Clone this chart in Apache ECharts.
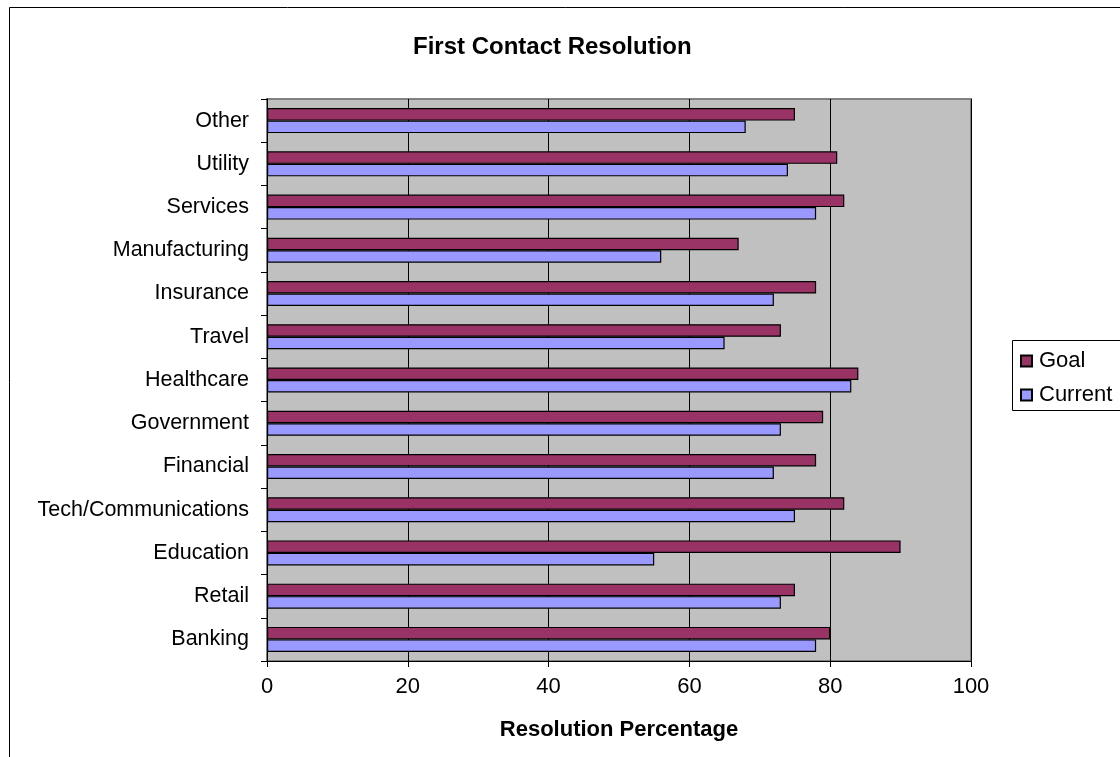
<!DOCTYPE html>
<html>
<head>
<meta charset="utf-8">
<script src="https://cdn.jsdelivr.net/npm/echarts@6/dist/echarts.min.js"></script>
<style>
  html, body { margin: 0; padding: 0; background: #fff; }
  #chart { width: 1120px; height: 757px; }
</style>
</head>
<body>
<div id="chart"></div>
<script>
// Industry sectors, listed bottom to top along the category axis
const categories = [
  'Banking', 'Retail', 'Education', 'Tech/Communications', 'Financial',
  'Government', 'Healthcare', 'Travel', 'Insurance', 'Manufacturing',
  'Services', 'Utility', 'Other'
];
// First contact resolution targets (%)
const goalValues = [80, 75, 90, 82, 78, 79, 84, 73, 78, 67, 82, 81, 75];
// First contact resolution achieved today (%)
const currentValues = [78, 73, 55, 75, 72, 73, 83, 65, 72, 56, 78, 74, 68];
// Percentage axis ticks
const xTicks = [0, 20, 40, 60, 80, 100];

const FONT = '"Liberation Sans", Arial, sans-serif';

const chart = echarts.init(document.getElementById('chart'), null, { renderer: 'canvas' });

chart.setOption({
  animation: false,
  backgroundColor: '#ffffff',
  title: {
    text: 'First Contact Resolution',
    left: 413,
    top: 35,
    padding: 0,
    textStyle: { fontFamily: FONT, fontSize: 24, fontWeight: 'bold', color: '#000' }
  },
  graphic: [
    { // outer chart frame
      type: 'rect', z: -1,
      shape: { x: 9.5, y: 7.5, width: 1300, height: 900 },
      style: { fill: 'none', stroke: '#000', lineWidth: 1 }
    },
    { // legend frame
      type: 'rect', z: 1,
      shape: { x: 1012.5, y: 340.5, width: 200, height: 70 },
      style: { fill: '#fff', stroke: '#000', lineWidth: 1 }
    }
  ],
  legend: {
    data: ['Goal', 'Current'],
    orient: 'vertical',
    left: 1020,
    top: 350,
    padding: 0,
    itemGap: 12,
    itemWidth: 11,
    itemHeight: 11,
    icon: 'rect',
    z: 5,
    textStyle: { fontFamily: FONT, fontSize: 22, color: '#000', padding: [0, 0, 0, 2] }
  },
  grid: {
    left: 267, right: 149, top: 99, bottom: 96,
    containLabel: false,
    show: true,
    backgroundColor: '#C0C0C0',
    borderColor: '#808080',
    borderWidth: 2
  },
  xAxis: {
    type: 'value',
    min: xTicks[0],
    max: xTicks[xTicks.length - 1],
    interval: xTicks[1] - xTicks[0],
    name: 'Resolution Percentage',
    nameLocation: 'middle',
    nameGap: 58,
    nameTextStyle: { fontFamily: FONT, fontSize: 22, fontWeight: 'bold', color: '#000' },
    axisLine: { show: true, onZero: false, lineStyle: { color: '#000', width: 1 } },
    axisTick: { show: true, length: 6, lineStyle: { color: '#000' } },
    axisLabel: { fontFamily: FONT, fontSize: 22, color: '#000', margin: 15 },
    splitLine: { show: true, lineStyle: { color: '#000', width: 1 } }
  },
  yAxis: {
    type: 'category',
    data: categories,
    axisLine: { show: true, lineStyle: { color: '#000', width: 1 } },
    axisTick: { show: true, length: 6, lineStyle: { color: '#000' } },
    axisLabel: { fontFamily: FONT, fontSize: 21.5, color: '#000', margin: 18 },
    splitLine: { show: false }
  },
  series: [
    {
      name: 'Goal',
      type: 'bar',
      data: goalValues,
      barWidth: 12.5,
      barGap: '0%',
      itemStyle: { color: '#993366', borderColor: '#000', borderWidth: 1.2 }
    },
    {
      name: 'Current',
      type: 'bar',
      data: currentValues,
      barWidth: 12.5,
      barGap: '0%',
      itemStyle: { color: '#9999FF', borderColor: '#000', borderWidth: 1.2 }
    }
  ]
});
</script>
</body>
</html>
